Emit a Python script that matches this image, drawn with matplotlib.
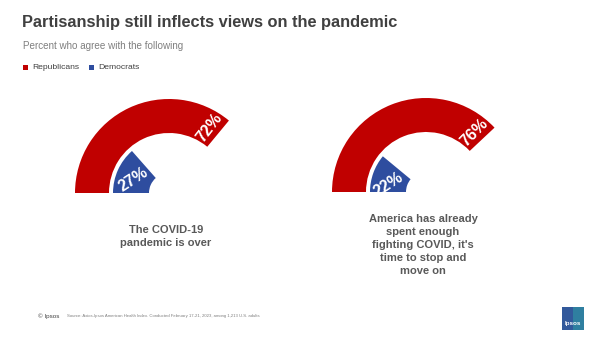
import math
import matplotlib.pyplot as plt
from matplotlib.patches import Wedge, Rectangle

plt.rcParams['font.family'] = ['Liberation Sans', 'DejaVu Sans']

# data
series = ['Republicans', 'Democrats']
statements = ['The COVID-19\npandemic is over',
              "America has already\nspent enough\nfighting COVID, it's\ntime to stop and\nmove on"]
republicans = [72, 76]
democrats = [27, 22]
colors = ['#C00000', '#2E4D9F']

W, H = 602, 338
fig = plt.figure(figsize=(W / 100, H / 100), dpi=100)
ax = fig.add_axes([0, 0, 1, 1])
ax.set_xlim(0, W)
ax.set_ylim(0, H)
ax.axis('off')

centers = [(169, 145), (426, 146)]
label_y = [H - 236.5, H - 245]
rings = [(60, 94), (20, 56)]  # inner, outer radius for red / blue
txt_off = [8, 28]

for i, (cx, cy) in enumerate(centers):
    for k, vals in enumerate([republicans, democrats]):
        v = vals[i]
        end = 180 - v / 100 * 180
        r_in, r_out = rings[k]
        ax.add_patch(Wedge((cx, cy), r_out, end, 180, width=r_out - r_in,
                           facecolor=colors[k], edgecolor='none'))
        a = math.radians(end + txt_off[k])
        rm = (r_in + r_out) / 2
        rot = end + 2 if k == 0 else 33
        ax.text(cx + rm * math.cos(a), cy + rm * math.sin(a), f'{v}%',
                color='white', fontsize=11.5, fontweight='bold',
                rotation=rot, ha='center', va='center', rotation_mode='anchor')
    ax.text(cx - 3, label_y[i], statements[i], ha='center', va='center',
            fontsize=8, fontweight='bold', color='#595959', linespacing=1.38)

# titles
ax.text(22, H - 23, 'Partisanship still inflects views on the pandemic',
        fontsize=11.8, fontweight='bold', color='#404040', va='center')
ax.text(23, H - 46, 'Percent who agree with the following',
        fontsize=7.1, color='#7F7F7F', va='center')

# legend
lx = [23, 89]
for k, name in enumerate(series):
    ax.add_patch(Rectangle((lx[k], H - 70), 5, 5, facecolor=colors[k], edgecolor='none'))
    ax.text(lx[k] + 9, H - 67.5, name, fontsize=6.1, color='#404040', va='center')

# footer
ax.text(38, H - 316, '\u00a9 Ipsos', fontsize=4.5, color='#404040', va='center')
ax.text(67, H - 316, 'Source: Axios-Ipsos American Health Index. Conducted February 17-21, 2023, '
        'among 1,213 U.S. adults', fontsize=3.05, color='#7F7F7F', va='center')
ax.add_patch(Rectangle((562, H - 330), 22, 23, facecolor='#2F7FA0', edgecolor='none'))
ax.add_patch(Rectangle((562, H - 330), 11, 23, facecolor='#33509A', edgecolor='none', alpha=0.8))
ax.text(573, H - 324, 'Ipsos', fontsize=4.5, color='white', fontweight='bold',
        ha='center', va='center')

fig.savefig('out.png', dpi=100)
